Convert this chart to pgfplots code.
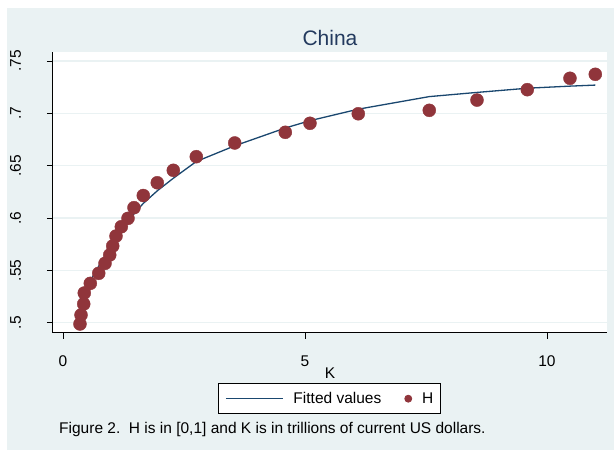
\documentclass[border=0pt]{standalone}
\usepackage{fontspec}
\setmainfont{Liberation Sans}
\usepackage{pgfplots}
\usepackage{pgfplotstable}
\pgfplotsset{compat=1.18}
\definecolor{bg}{HTML}{EAF2F3}
\definecolor{stnavy}{HTML}{1A476F}
\definecolor{stmaroon}{HTML}{90353B}
\definecolor{titlec}{HTML}{233A5E}

\pgfplotstableread{
K H
0.351 0.4988
0.372 0.5074
0.428 0.5179
0.440 0.5284
0.564 0.5376
0.738 0.5472
0.868 0.5567
0.965 0.5647
1.027 0.5733
1.095 0.5828
1.205 0.5917
1.343 0.5997
1.467 0.6099
1.659 0.6215
1.948 0.6337
2.279 0.6456
2.754 0.6586
3.548 0.6717
4.593 0.6819
5.103 0.6905
6.101 0.6996
7.568 0.7029
8.554 0.7127
9.593 0.7226
10.475 0.7335
10.998 0.7373
}\hdata

\pgfplotstableread{
K F
0.351 0.522
0.372 0.524
0.428 0.529
0.440 0.530
0.564 0.540
0.738 0.554
0.868 0.564
0.965 0.571
1.027 0.576
1.095 0.580
1.205 0.588
1.343 0.597
1.467 0.604
1.659 0.614
1.948 0.626
2.279 0.638
2.754 0.654
3.548 0.669
4.593 0.686
5.103 0.693
6.101 0.704
7.568 0.716
8.554 0.720
9.593 0.724
10.475 0.726
10.998 0.727
}\fdata

\begin{document}
\begin{tikzpicture}[x=1pt,y=1pt]
\fill[white] (0,0) rectangle (614,450);
\fill[bg] (7,0) rectangle (614,442);
\begin{axis}[
  at={(53pt,117pt)}, anchor=south west,
  scale only axis, width=554pt, height=281pt,
  xmin=-0.2066, xmax=11.24, ymin=0.4902, ymax=0.7586,
  axis background/.style={fill=white},
  axis x line*=bottom, axis y line*=left,
  axis line style={black, line width=1pt, -},
  xtick={0,5,10}, xticklabels={0,5,10},
  ytick={0.5,0.55,0.6,0.65,0.7,0.75},
  yticklabels={.5,.55,.6,.65,.7,.75},
  tick align=outside, major tick length=6pt,
  tick style={black, line width=0.8pt},
  ymajorgrids, grid style={bg, line width=1.5pt},
  /pgf/number format/assume math mode=true,
  ticklabel style={font=\fontsize{15.5}{18}\selectfont, inner sep=0pt},
  xticklabel style={anchor=base, yshift=-28pt},
  yticklabel style={xshift=-26pt, rotate=90, anchor=base},
  xlabel={K},
  xlabel style={at={(axis description cs:0.5,0)}, anchor=base, yshift=-46pt, inner sep=0pt, font=\fontsize{15.5}{18}\selectfont},
  legend columns=2,
  legend style={at={(0.4987,-0.2338)}, anchor=center, draw=black, line width=0.8pt,
    fill=white, font=\fontsize{15.5}{18}\selectfont, inner xsep=7pt, inner ysep=8.5pt,
    nodes={inner sep=0pt},
    /tikz/every odd column/.append style={column sep=10pt},
    /tikz/every even column/.append style={column sep=23pt}},
  clip=false,
]
\addplot[stnavy, line width=1.3pt, sharp plot, no marks,
  legend image code/.code={\draw[stnavy, line width=1.3pt] (0pt,0pt) -- (57pt,0pt);}]
  table[x=K, y=F] {\fdata};
\addlegendentry{Fitted values}
\addplot[only marks, mark=*, mark size=6.5pt, mark options={draw=stmaroon, fill=stmaroon},
  legend image code/.code={\fill[stmaroon] (3.5pt,0pt) circle (3.5pt);}]
  table[x=K, y=H] {\hdata};
\addlegendentry{H}
\end{axis}
\node[anchor=base, inner sep=0pt, text=titlec, font=\fontsize{21}{25}\selectfont] at (330,404) {China};
\node[anchor=base west, inner sep=0pt, font=\fontsize{15.5}{18}\selectfont] at (59,16) {Figure 2.\ \ H is in [0,1] and K is in trillions of current US dollars.};
\end{tikzpicture}
\end{document}
